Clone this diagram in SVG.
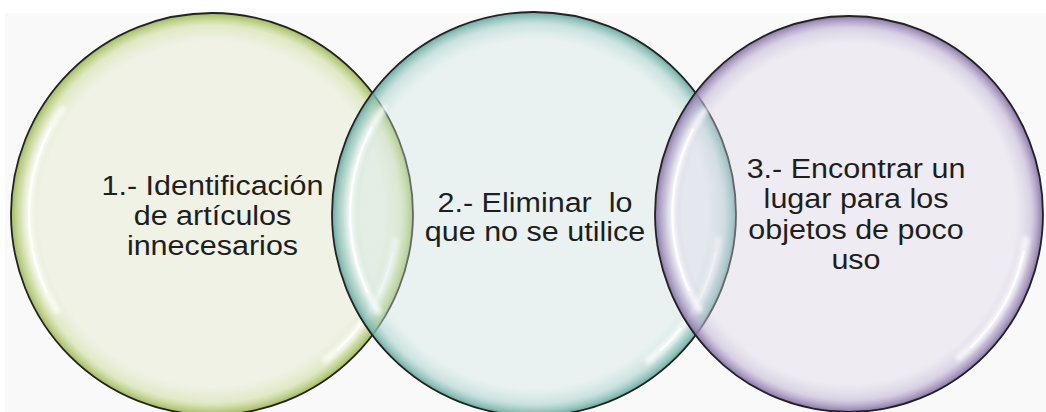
<svg xmlns="http://www.w3.org/2000/svg" xmlns:xlink="http://www.w3.org/1999/xlink" width="1046" height="412" viewBox="0 0 1046 412">
  <style>
    .ring { stroke: #222; stroke-width: 1.8; }
    .lbl { font-family: "Liberation Sans", Arial, sans-serif; font-size: 28px; fill: #1e1e1e; text-anchor: middle; }
    .pre { white-space: pre; }
    .hl-soft { fill: none; stroke: #ffffff; stroke-width: 7; stroke-linecap: round; opacity: 0.75; }
    .hl-core { fill: none; stroke: #ffffff; stroke-width: 2.2; stroke-linecap: round; opacity: 0.9; }
  </style>
  <defs>
    <radialGradient id="gGreen" cx="50%" cy="50%" r="50%">
      <stop offset="0%" stop-color="#e1e8c8" stop-opacity="0.4"/>
      <stop offset="86%" stop-color="#e1e8c8" stop-opacity="0.42"/>
      <stop offset="94%" stop-color="#d0dea2" stop-opacity="0.6"/>
      <stop offset="98%" stop-color="#b0c670" stop-opacity="0.85"/>
      <stop offset="100%" stop-color="#9cb458" stop-opacity="0.95"/>
    </radialGradient>
    <radialGradient id="gTeal" cx="50%" cy="50%" r="50%">
      <stop offset="0%" stop-color="#cfe6e3" stop-opacity="0.35"/>
      <stop offset="86%" stop-color="#cfe6e3" stop-opacity="0.38"/>
      <stop offset="94%" stop-color="#acd3ce" stop-opacity="0.6"/>
      <stop offset="98%" stop-color="#80b9b1" stop-opacity="0.85"/>
      <stop offset="100%" stop-color="#66a39b" stop-opacity="0.95"/>
    </radialGradient>
    <radialGradient id="gPurple" cx="50%" cy="50%" r="50%">
      <stop offset="0%" stop-color="#dbd5e6" stop-opacity="0.35"/>
      <stop offset="86%" stop-color="#dbd5e6" stop-opacity="0.38"/>
      <stop offset="94%" stop-color="#c2b6d5" stop-opacity="0.6"/>
      <stop offset="98%" stop-color="#9c89b7" stop-opacity="0.85"/>
      <stop offset="100%" stop-color="#826ea2" stop-opacity="0.95"/>
    </radialGradient>
    <filter id="blurSoft" x="-20%" y="-20%" width="140%" height="140%">
      <feGaussianBlur stdDeviation="2.2"/>
    </filter>
    <filter id="blurCore" x="-20%" y="-20%" width="140%" height="140%">
      <feGaussianBlur stdDeviation="0.7"/>
    </filter>
    <g id="gloss">
      <path class="hl-soft" filter="url(#blurSoft)" d="M -149.1 -104.4 A 182 182 0 0 0 -154.3 96.4"/>
      <path class="hl-core" filter="url(#blurCore)" d="M -160.8 -85.3 A 182 182 0 0 0 -165.0 76.9"/>
      <path class="hl-soft" filter="url(#blurSoft)" d="M 182.2 25.6 A 184 184 0 0 1 113.3 145.0"/>
      <path class="hl-core" filter="url(#blurCore)" d="M 180.0 38.3 A 184 184 0 0 1 125.5 134.6"/>
    </g>
  </defs>

  <rect x="0" y="0" width="1046" height="412" fill="#ffffff"/>
  <rect x="5" y="13" width="1041" height="399" fill="#f9f9f9"/>

  <g id="node-1">
    <circle cx="212" cy="214" r="201" fill="url(#gGreen)"/>
    <use xlink:href="#gloss" href="#gloss" transform="translate(212 214) scale(1.005)"/>
    <circle class="ring" cx="212" cy="214" r="201" fill="none"/>
    <text class="lbl" transform="translate(212.5 0) scale(1.09 1)"><tspan x="0" y="195">1.- Identificación</tspan><tspan x="0" y="225">de artículos</tspan><tspan x="0" y="255">innecesarios</tspan></text>
  </g>

  <g id="node-2">
    <circle cx="534" cy="214" r="202" fill="url(#gTeal)"/>
    <use xlink:href="#gloss" href="#gloss" transform="translate(534 214) scale(1.01)"/>
    <circle class="ring" cx="534" cy="214" r="202" fill="none"/>
    <text class="lbl pre" xml:space="preserve" transform="translate(535 0) scale(1.09 1)"><tspan x="0" y="212">2.- Eliminar  lo</tspan><tspan x="0" y="241">que no se utilice</tspan></text>
  </g>

  <g id="node-3">
    <ellipse cx="849" cy="214" rx="194" ry="198" fill="url(#gPurple)"/>
    <use xlink:href="#gloss" href="#gloss" transform="translate(849 214) scale(0.97 0.99)"/>
    <ellipse class="ring" cx="849" cy="214" rx="194" ry="198" fill="none"/>
    <text class="lbl" transform="translate(856 0) scale(1.09 1)"><tspan x="0" y="178">3.- Encontrar un</tspan><tspan x="0" y="208.5">lugar para los</tspan><tspan x="0" y="239">objetos de poco</tspan><tspan x="0" y="269.5">uso</tspan></text>
  </g>

  <g id="connectors"/>
</svg>
